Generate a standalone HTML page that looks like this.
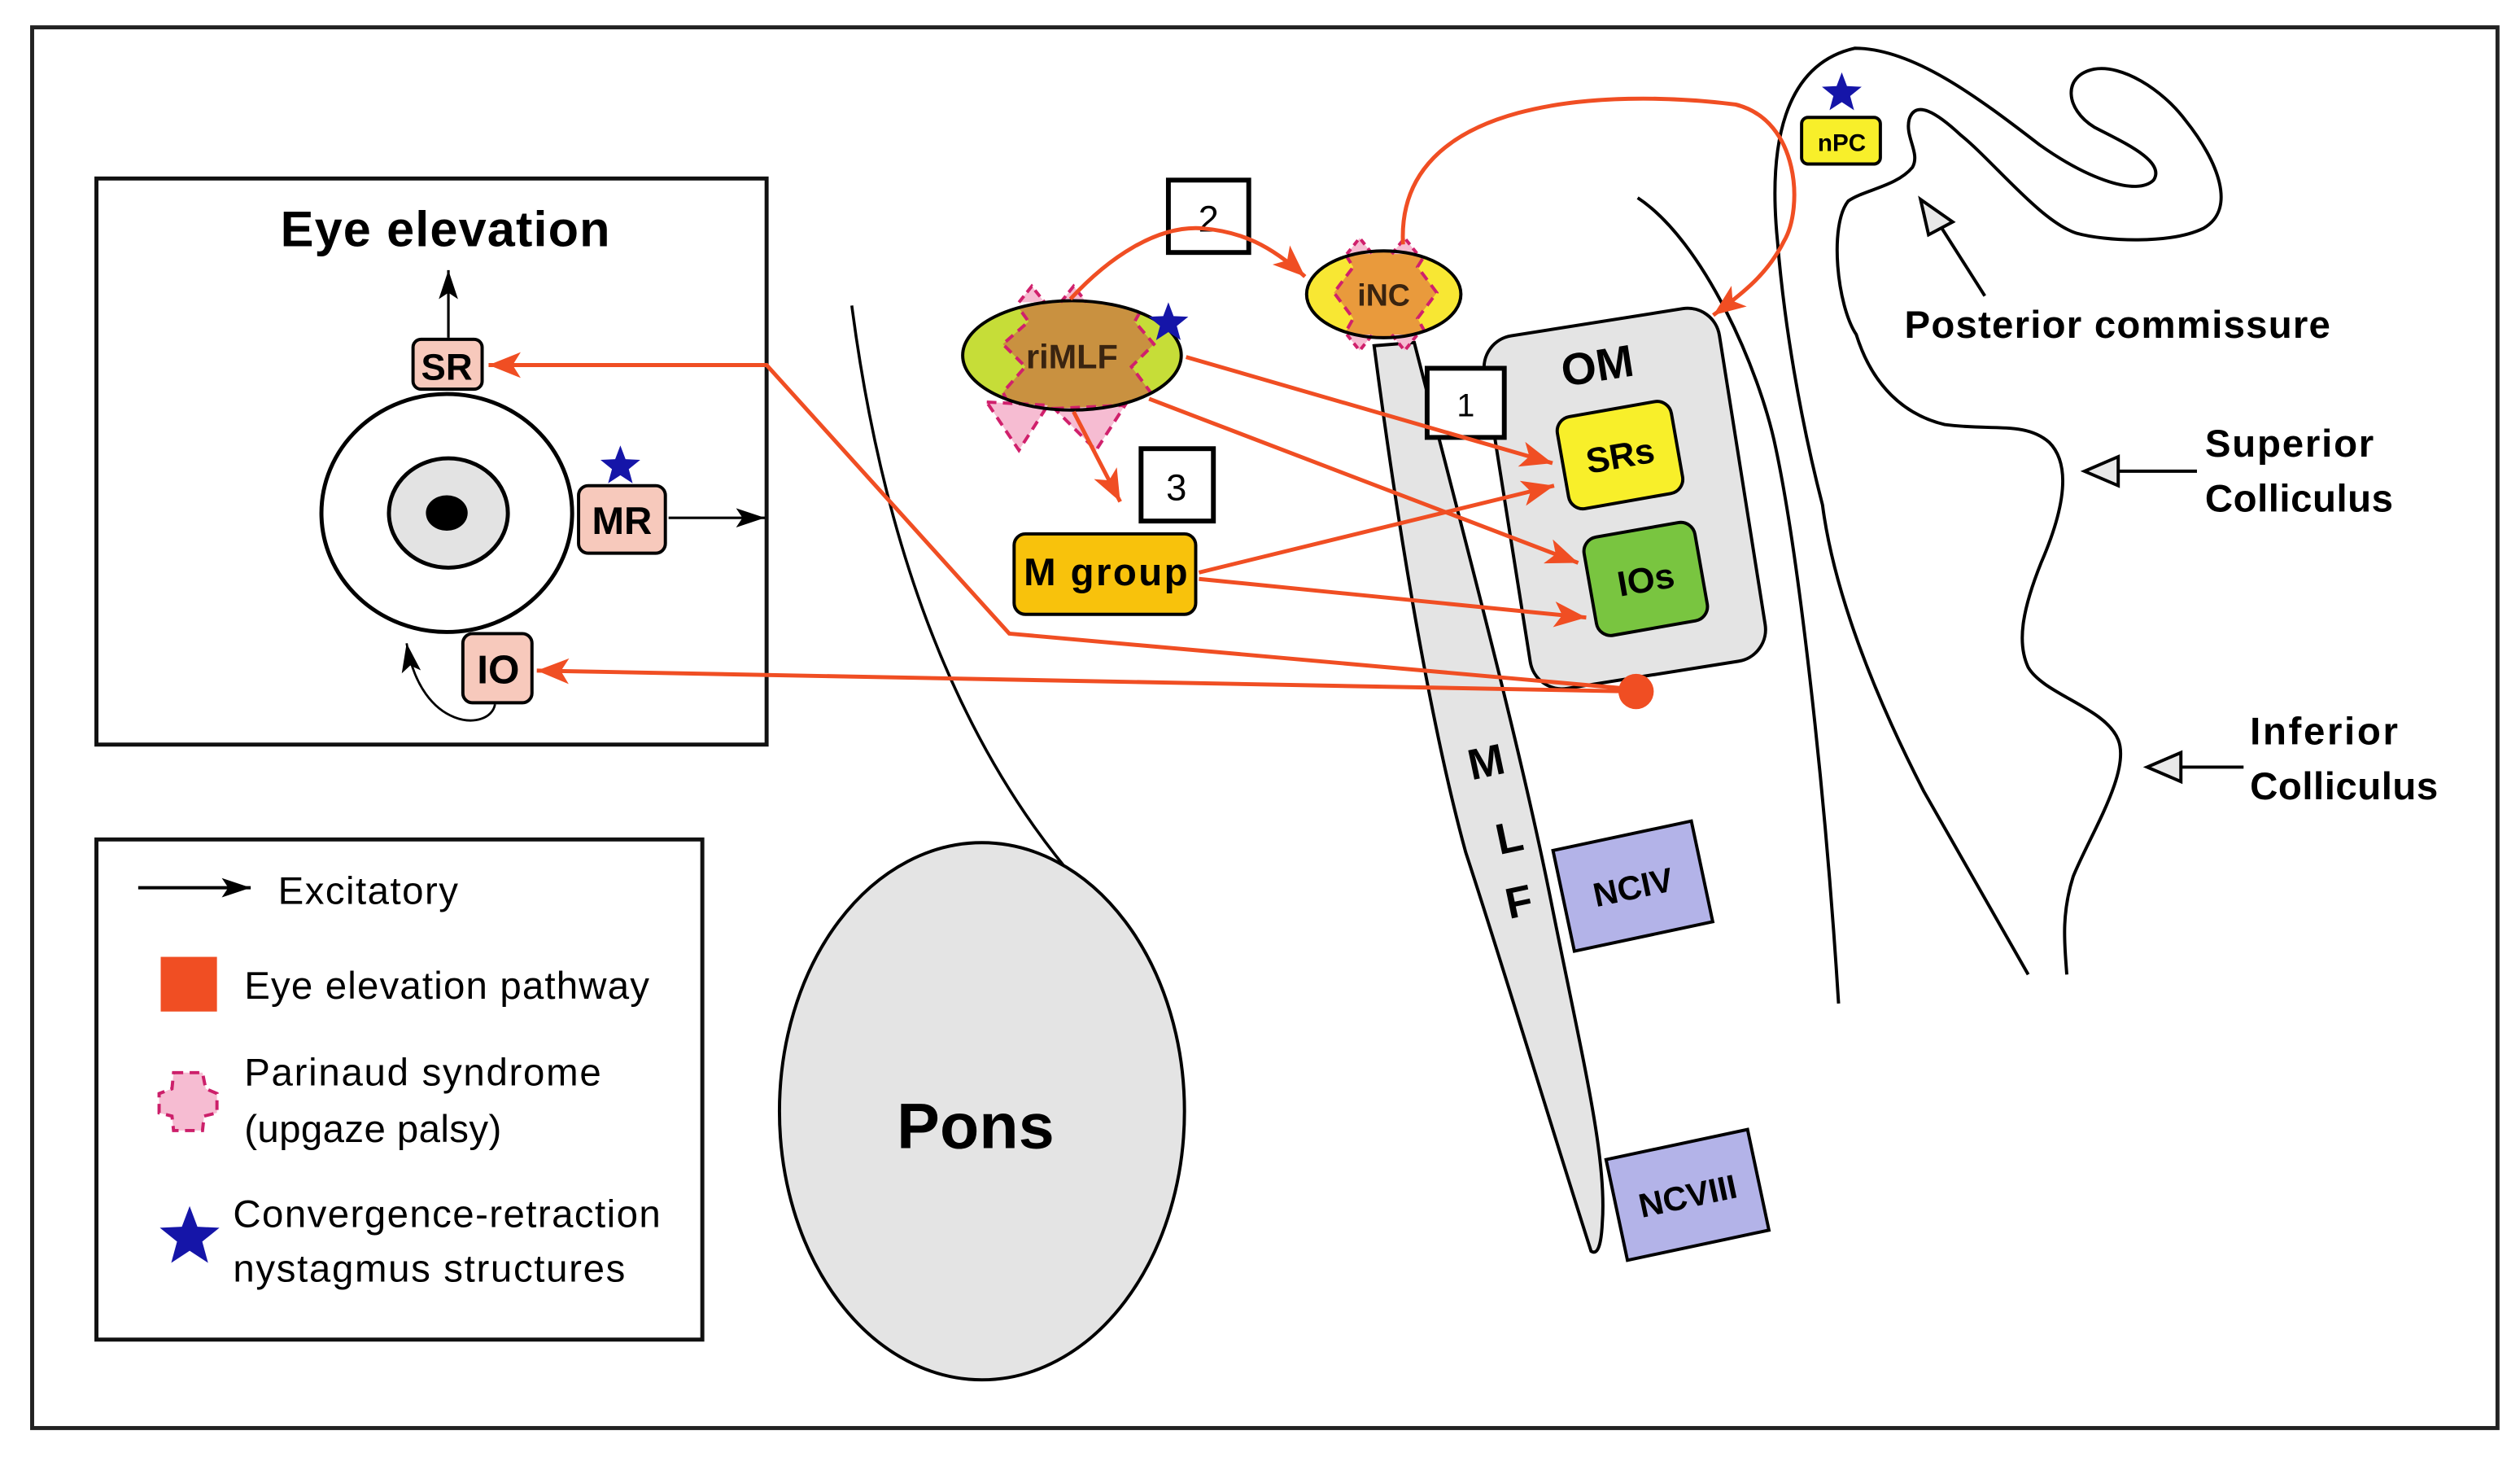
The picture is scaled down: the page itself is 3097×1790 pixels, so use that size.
<!DOCTYPE html>
<html><head><meta charset="utf-8"><style>
html,body{margin:0;padding:0;background:#fff;}
svg{display:block;}
text{font-family:"Liberation Sans",sans-serif;}
</style></head><body>
<svg width="3097" height="1790" viewBox="0 0 1568 906" preserveAspectRatio="none" xmlns="http://www.w3.org/2000/svg">
<defs>
<marker id="oa" markerUnits="userSpaceOnUse" markerWidth="22" markerHeight="18" refX="20" refY="9" orient="auto"><path d="M0,1 L20,9 L0,17 L5,9 Z" fill="#f04e23"/></marker>
<marker id="ba" markerUnits="userSpaceOnUse" markerWidth="20" markerHeight="14" refX="18" refY="7" orient="auto"><path d="M0,1 L18,7 L0,13 L4,7 Z" fill="#000"/></marker>
<clipPath id="cr"><ellipse cx="667" cy="221" rx="68" ry="34"/></clipPath>
<clipPath id="ci"><ellipse cx="861" cy="183" rx="48" ry="27"/></clipPath>
<polygon id="st" points="0,-13 3.23,-4.45 12.36,-4.02 5.23,1.70 7.64,10.52 0,5.5 -7.64,10.52 -5.23,1.70 -12.36,-4.02 -3.23,-4.45" fill="#1515a8"/>
</defs>
<rect x="0" y="0" width="1568" height="906" fill="#fff"/>
<rect x="20" y="17" width="1534" height="871" fill="none" stroke="#222" stroke-width="2.5"/>

<!-- Eye box -->
<rect x="60" y="111" width="417" height="352" fill="none" stroke="#111" stroke-width="2.5"/>
<text x="277" y="153" font-size="31" font-weight="bold" text-anchor="middle" textLength="205">Eye elevation</text>
<line x1="279" y1="210" x2="279" y2="168" stroke="#000" stroke-width="1.6" marker-end="url(#ba)"/>
<ellipse cx="278" cy="319" rx="78" ry="74" fill="#fff" stroke="#000" stroke-width="2.5"/>
<ellipse cx="279" cy="319" rx="37" ry="34" fill="#e3e3e3" stroke="#000" stroke-width="2.5"/>
<ellipse cx="278" cy="319" rx="13" ry="11" fill="#000"/>
<rect x="257" y="211" width="43" height="31" rx="5" fill="#f7c9bc" stroke="#000" stroke-width="2"/>
<text x="278" y="236" font-size="23" font-weight="bold" text-anchor="middle">SR</text>
<rect x="360" y="302" width="54" height="42" rx="6" fill="#f7c9bc" stroke="#000" stroke-width="2"/>
<text x="387" y="332" font-size="24" font-weight="bold" text-anchor="middle">MR</text>
<use href="#st" x="386" y="290"/>
<line x1="416" y1="322" x2="476" y2="322" stroke="#000" stroke-width="1.6" marker-end="url(#ba)"/>
<rect x="288" y="394" width="43" height="43" rx="6" fill="#f7c9bc" stroke="#000" stroke-width="2"/>
<text x="310" y="425" font-size="25" font-weight="bold" text-anchor="middle">IO</text>
<path d="M308,438 C305,455 262,455 253,400" fill="none" stroke="#000" stroke-width="1.4" marker-end="url(#ba)"/>

<!-- Legend -->
<rect x="60" y="522" width="377" height="311" fill="none" stroke="#111" stroke-width="2.5"/>
<line x1="86" y1="552" x2="156" y2="552" stroke="#000" stroke-width="2" marker-end="url(#ba)"/>
<text x="173" y="562" font-size="24" textLength="112">Excitatory</text>
<rect x="100" y="595" width="35" height="34" fill="#f04e23"/>
<text x="152" y="621" font-size="24" textLength="252">Eye elevation pathway</text>
<path d="M108,667 L126,667 L128,677 L135,680 L135,692 L127,694 L126,703 L108,703 L107,694 L99,692 L99,680 L107,677 Z" fill="#f6bcd2" stroke="#cc1f6a" stroke-width="2" stroke-dasharray="6,4"/>
<text x="152" y="675" font-size="24" textLength="222">Parinaud syndrome</text>
<text x="152" y="710" font-size="24" textLength="160">(upgaze palsy)</text>
<use href="#st" x="118" y="769" transform="translate(-59 -384) scale(1.5)" />
<text x="145" y="763" font-size="24" textLength="266">Convergence-retraction</text>
<text x="145" y="797" font-size="24" textLength="244">nystagmus structures</text>

<!-- Pons -->
<path d="M530,190 Q560,420 670,548" fill="none" stroke="#000" stroke-width="1.8"/>
<ellipse cx="611" cy="691" rx="126" ry="167" fill="#e4e4e4" stroke="#000" stroke-width="2"/>
<text x="607" y="714" font-size="40" font-weight="bold" text-anchor="middle" textLength="98">Pons</text>

<!-- MLF -->
<path d="M855,215 L880,213 C910,330 945,460 965,560 C985,660 1000,720 997,760 Q996,782 990,778 C965,700 935,600 912,530 C890,450 870,330 855,215 Z" fill="#e4e4e4" stroke="#000" stroke-width="2"/>
<text x="925" y="483" font-size="27" font-weight="bold" text-anchor="middle" transform="rotate(-12 925 475)">M</text>
<text x="939" y="530" font-size="27" font-weight="bold" text-anchor="middle" transform="rotate(-12 939 520)">L</text>
<text x="945" y="570" font-size="27" font-weight="bold" text-anchor="middle" transform="rotate(-12 945 560)">F</text>

<!-- brainstem lines -->
<path d="M1019,123 C1060,150 1095,230 1105,279 C1118,340 1135,480 1144,624" fill="none" stroke="#000" stroke-width="2"/>
<path d="M1262,606 L1197,492 C1160,420 1140,360 1134,314 C1120,260 1110,200 1106,150 C1100,90 1110,40 1154,30 C1190,30 1230,60 1269,90 C1300,112 1330,122 1340,112 C1348,100 1320,88 1303,79 C1285,68 1283,47 1303,43 C1320,40 1345,55 1360,75 C1380,100 1392,130 1371,142 C1350,152 1310,150 1292,145 C1270,138 1240,100 1220,84 C1205,70 1192,62 1188,74 C1185,85 1195,95 1190,104 C1180,116 1160,118 1150,125 C1138,140 1143,190 1155,208 C1165,240 1185,258 1210,264 C1240,268 1260,262 1275,275 C1290,290 1283,320 1270,350 C1258,380 1255,400 1262,415 C1272,432 1310,440 1318,460 C1326,480 1300,520 1290,545 C1282,570 1285,590 1286,606" fill="none" stroke="#000" stroke-width="2"/>

<!-- OM -->
<rect x="937" y="199" width="148" height="222" rx="20" fill="#e4e4e4" stroke="#000" stroke-width="2" transform="rotate(-9 1011 310)"/>
<text x="994" y="237" font-size="28" font-weight="bold" text-anchor="middle" transform="rotate(-9 994 228)">OM</text>
<rect x="972" y="254" width="72" height="58" rx="9" fill="#f8ef2a" stroke="#000" stroke-width="2" transform="rotate(-10 1008 283)"/>
<text x="1008" y="291" font-size="22" font-weight="bold" text-anchor="middle" transform="rotate(-10 1008 283)">SRs</text>
<rect x="989" y="329" width="70" height="62" rx="9" fill="#79c540" stroke="#000" stroke-width="2" transform="rotate(-10 1024 360)"/>
<text x="1024" y="368" font-size="22" font-weight="bold" text-anchor="middle" transform="rotate(-10 1024 360)">IOs</text>

<!-- NC boxes -->
<rect x="972" y="519" width="88" height="64" fill="#b3b3e8" stroke="#000" stroke-width="2" transform="rotate(-12 1016 551)"/>
<text x="1016" y="559" font-size="21" font-weight="bold" text-anchor="middle" transform="rotate(-12 1016 551)">NCIV</text>
<rect x="1005" y="711" width="90" height="64" fill="#b3b3e8" stroke="#000" stroke-width="2" transform="rotate(-12 1050 743)"/>
<text x="1050" y="751" font-size="21" font-weight="bold" text-anchor="middle" transform="rotate(-12 1050 743)">NCVIII</text>

<!-- riMLF -->
<ellipse cx="667" cy="221" rx="68" ry="34" fill="#c6dd38"/>
<g clip-path="url(#cr)">
<path d="M630,186 L640,200 L624,214 L638,228 L624,244 L632,260 L708,260 L716,244 L704,228 L718,214 L706,200 L714,186 Z" fill="#c99140" stroke="#d0206c" stroke-width="2" stroke-dasharray="6,4"/>
</g>
<path d="M614,250 L652,252 L634,280 Z" fill="#f6bcd2" stroke="#d0206c" stroke-width="2" stroke-dasharray="6,4"/>
<path d="M656,254 L700,252 L682,280 Z" fill="#f6bcd2" stroke="#d0206c" stroke-width="2" stroke-dasharray="6,4"/>
<path d="M634,188 L642,178 L650,188 M660,188 L668,178 L676,188" fill="#f6bcd2" stroke="#d0206c" stroke-width="2" stroke-dasharray="5,3"/>
<ellipse cx="667" cy="221" rx="68" ry="34" fill="none" stroke="#000" stroke-width="2"/>
<text x="667" y="229" font-size="21" font-weight="bold" text-anchor="middle" fill="#3a2410">riMLF</text>
<use href="#st" x="727" y="201"/>

<!-- iNC -->
<ellipse cx="861" cy="183" rx="48" ry="27" fill="#f8e733"/>
<g clip-path="url(#ci)">
<path d="M832,150 L842,166 L830,182 L842,198 L832,216 L892,216 L882,198 L894,182 L882,166 L892,150 Z" fill="#e99a3c" stroke="#d0206c" stroke-width="2" stroke-dasharray="6,4"/>
</g>
<path d="M838,158 L846,148 L854,158 M866,158 L874,148 L882,158 M838,208 L846,218 L854,208 M866,208 L874,218 L882,208" fill="#f6bcd2" stroke="#d0206c" stroke-width="2" stroke-dasharray="4,3"/>
<ellipse cx="861" cy="183" rx="48" ry="27" fill="none" stroke="#000" stroke-width="2"/>
<text x="861" y="190" font-size="19" font-weight="bold" text-anchor="middle" fill="#3a2410">iNC</text>

<!-- nPC -->
<rect x="1121" y="73" width="49" height="29" rx="4" fill="#f8ef2a" stroke="#000" stroke-width="2"/>
<text x="1146" y="94" font-size="15" font-weight="bold" text-anchor="middle">nPC</text>
<use href="#st" x="1146" y="58"/>

<!-- M group -->
<rect x="631" y="332" width="113" height="50" rx="7" fill="#f8c20c" stroke="#000" stroke-width="2"/>
<text x="688" y="364" font-size="24" font-weight="bold" text-anchor="middle" textLength="102">M group</text>

<!-- number boxes -->
<rect x="727" y="112" width="50" height="45" fill="#fff" stroke="#000" stroke-width="3"/>
<text x="752" y="144" font-size="23" text-anchor="middle">2</text>
<rect x="710" y="279" width="45" height="45" fill="#fff" stroke="#000" stroke-width="3"/>
<text x="732" y="311" font-size="23" text-anchor="middle">3</text>
<rect x="888" y="229" width="48" height="43" fill="#fff" stroke="#000" stroke-width="3"/>
<text x="912" y="259" font-size="20" text-anchor="middle">1</text>

<!-- orange pathways -->
<g fill="none" stroke="#f04e23" stroke-width="2.5">
<path d="M666,186 C690,160 720,140 748,142 C772,144 790,152 812,172" marker-end="url(#oa)"/>
<path d="M873,152 C868,60 1000,55 1080,65 C1120,75 1122,130 1110,150 C1100,170 1085,182 1066,196" marker-end="url(#oa)"/>
<path d="M738,222 L966,288" marker-end="url(#oa)"/>
<path d="M715,248 L982,350" marker-end="url(#oa)"/>
<path d="M668,256 L697,312" marker-end="url(#oa)"/>
<path d="M746,356 L967,302" marker-end="url(#oa)"/>
<path d="M746,360 L987,384" marker-end="url(#oa)"/>
<path d="M1010,428 L628,394 L477,227 L304,227" marker-end="url(#oa)"/>
<path d="M1018,430 L334,417" marker-end="url(#oa)"/>
</g>
<circle cx="1018" cy="430" r="11" fill="#f04e23"/>

<!-- labels right -->
<text x="1185" y="210" font-size="24" font-weight="bold" textLength="265">Posterior commissure</text>
<line x1="1235" y1="184" x2="1207" y2="140" stroke="#000" stroke-width="2"/>
<path d="M1195,124 L1215,138 L1200,146 Z" fill="#e8e8e8" stroke="#000" stroke-width="2"/>
<text x="1372" y="284" font-size="24" font-weight="bold" textLength="105">Superior</text>
<text x="1372" y="318" font-size="24" font-weight="bold" textLength="117">Colliculus</text>
<line x1="1367" y1="293" x2="1318" y2="293" stroke="#000" stroke-width="2"/>
<path d="M1297,293 L1318,284 L1318,302 Z" fill="#e8e8e8" stroke="#000" stroke-width="2"/>
<text x="1400" y="463" font-size="24" font-weight="bold" textLength="92">Inferior</text>
<text x="1400" y="497" font-size="24" font-weight="bold" textLength="117">Colliculus</text>
<line x1="1396" y1="477" x2="1357" y2="477" stroke="#000" stroke-width="2"/>
<path d="M1336,477 L1357,468 L1357,486 Z" fill="#e8e8e8" stroke="#000" stroke-width="2"/>
</svg>
</body></html>
